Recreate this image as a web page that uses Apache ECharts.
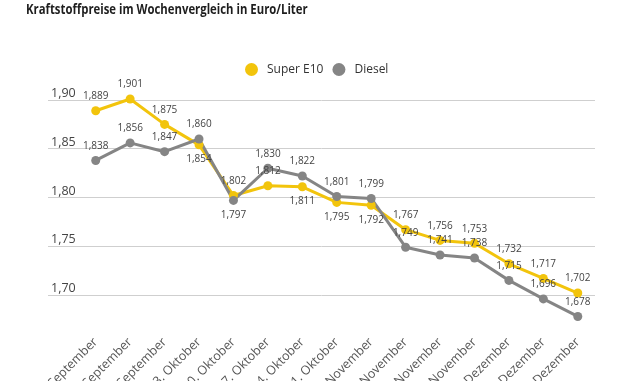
<!DOCTYPE html>
<html>
<head>
<meta charset="utf-8">
<script src="https://cdn.jsdelivr.net/npm/echarts@6/dist/echarts.min.js"></script>
<style>
html,body{margin:0;padding:0;background:#fff;}
#chart{width:630px;height:381px;}
</style>
</head>
<body>
<div id="chart"></div>
<script>
const chartTitle = 'Kraftstoffpreise im Wochenvergleich in Euro/Liter';
const categories = ['12. September','19. September','26. September','3. Oktober','10. Oktober','17. Oktober','24. Oktober','31. Oktober','7. November','14. November','21. November','28. November','5. Dezember','12. Dezember','19. Dezember'];
const superE10 = [1.889,1.901,1.875,1.854,1.802,1.812,1.811,1.795,1.792,1.767,1.756,1.753,1.732,1.717,1.702];
const diesel = [1.838,1.856,1.847,1.860,1.797,1.830,1.822,1.801,1.799,1.749,1.741,1.738,1.715,1.696,1.678];
const yMin = 1.70, yMax = 1.90, yStep = 0.05;
const e10LabelPos = ['top','top','top','bottom','top','top','bottom','bottom','bottom','top','top','top','top','top','top'];
const dieselLabelPos = ['top','top','top','top','bottom','top','top','top','top','top','top','top','top','top','top'];

const fmt = (v, d) => v.toFixed(d).replace('.', ',');
const YELLOW = '#f2c40c', GRAY = '#858585';
const FONT = '"Open Sans", sans-serif';

function makeData(vals, pos) {
  return vals.map((v, i) => ({ value: v, label: { position: pos[i] } }));
}

const chart = echarts.init(document.getElementById('chart'), null, { renderer: 'canvas' });
chart.setOption({
  animation: false,
  backgroundColor: '#fff',
  graphic: [{
    type: 'text', x: 26, y: 3, scaleX: 0.81,
    style: { text: chartTitle, font: 'bold 14px "Open Sans", sans-serif', fill: '#1e1e1e' }
  }],
  legend: {
    left: 240, top: 58,
    icon: 'circle', itemWidth: 13, itemHeight: 13, itemGap: 9,
    textStyle: { fontFamily: FONT, fontSize: 12, color: '#333', padding: [0, 0, 0, 4] },
    data: ['Super E10', 'Diesel']
  },
  grid: [
    { left: 48, right: 35, top: 100, bottom: 86, outerBoundsMode: 'none', containLabel: false },
    { left: 78.5, right: 35, top: 100, bottom: 86, outerBoundsMode: 'none', containLabel: false }
  ],
  xAxis: [
    { type: 'category', gridIndex: 0, data: categories, show: false },
    {
      type: 'category', gridIndex: 1, data: categories, boundaryGap: true,
      axisLine: { show: false }, axisTick: { show: false },
      axisLabel: { rotate: 45, margin: 45, interval: 0, color: '#555', fontSize: 12.5, fontFamily: FONT }
    }
  ],
  yAxis: [
    {
      type: 'value', gridIndex: 0, min: yMin, max: yMax, interval: yStep,
      axisLine: { show: false }, axisTick: { show: false },
      splitLine: { lineStyle: { color: '#cfcfcf', width: 1 } },
      axisLabel: { inside: true, margin: 3, verticalAlign: 'bottom', color: '#444', fontSize: 12.5, fontFamily: FONT,
        formatter: v => fmt(v, 2) }
    },
    { type: 'value', gridIndex: 1, min: yMin, max: yMax, interval: yStep, show: false, splitLine: { show: false } }
  ],
  series: [
    {
      name: 'Super E10', type: 'line', xAxisIndex: 1, yAxisIndex: 1, clip: false,
      data: makeData(superE10, e10LabelPos),
      color: YELLOW,
      symbol: 'circle', symbolSize: 9,
      lineStyle: { width: 3, color: YELLOW },
      itemStyle: { color: YELLOW },
      label: { show: true, distance: 5, color: '#444', fontSize: 10, fontFamily: FONT, formatter: p => fmt(p.value, 3) }
    },
    {
      name: 'Diesel', type: 'line', xAxisIndex: 1, yAxisIndex: 1, clip: false,
      data: makeData(diesel, dieselLabelPos),
      color: GRAY,
      symbol: 'circle', symbolSize: 9,
      lineStyle: { width: 3, color: GRAY },
      itemStyle: { color: GRAY },
      label: { show: true, distance: 5, color: '#444', fontSize: 10, fontFamily: FONT, formatter: p => fmt(p.value, 3) }
    }
  ]
});
</script>
</body>
</html>
